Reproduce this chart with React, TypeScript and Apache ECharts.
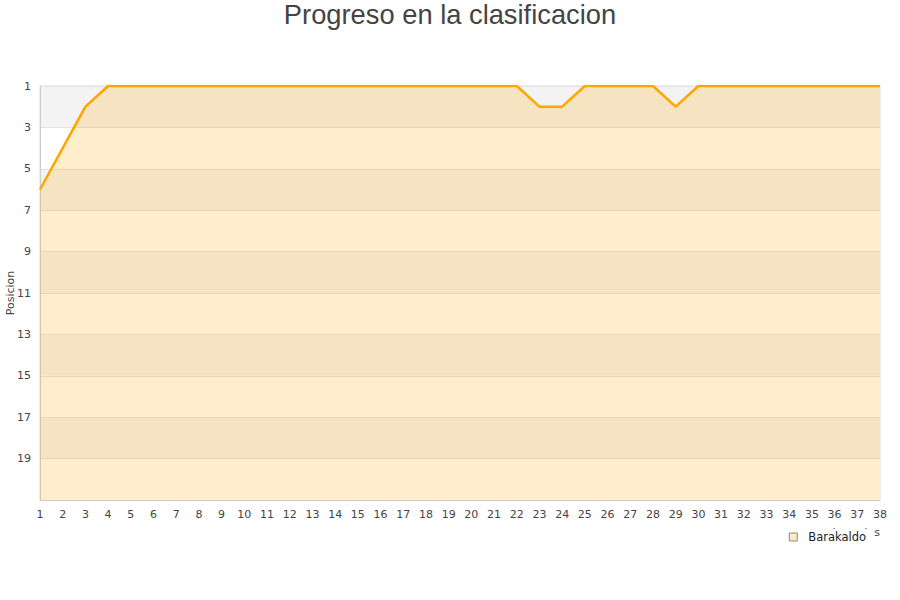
import React, { useEffect, useRef } from "react";
import * as echarts from "echarts";

const jornadas = Array.from({ length: 38 }, (_, i) => String(i + 1));
const posiciones = [
  6, 4, 2, 1, 1, 1, 1, 1, 1, 1,
  1, 1, 1, 1, 1, 1, 1, 1, 1, 1,
  1, 1, 2, 2, 1, 1, 1, 1, 2, 1,
  1, 1, 1, 1, 1, 1, 1, 1,
];
const teamName = "Barakaldo";
const chartTitle = "Progreso en la clasificacion";

export default function App() {
  const ref = useRef<HTMLDivElement>(null);
  useEffect(() => {
    if (!ref.current) return;
    const chart = echarts.init(ref.current, null, { renderer: "svg" });
    chart.setOption({
      animation: false,
      title: {
        text: chartTitle,
        left: "center",
        top: -4,
        textStyle: {
          fontFamily: "Liberation Sans, Arial, sans-serif",
          fontSize: 27.3,
          fontWeight: "normal",
          color: "#444",
        },
      },
      grid: {
        left: 40,
        right: 20,
        top: 86,
        bottom: 100,
        containLabel: false,
        outerBoundsMode: "none",
        show: true,
        borderColor: "#ddd",
        borderWidth: 1,
        backgroundColor: "transparent",
      },
      legend: {
        data: [
          {
            name: teamName,
            icon: "rect",
            itemStyle: { color: "#ffe9c4", borderColor: "#888", borderWidth: 1 },
          },
        ],
        right: 26,
        top: 529,
        itemWidth: 8,
        itemHeight: 8,
        itemGap: 10,
        padding: [2, 8, 4, 6],
        backgroundColor: "#fff",
        textStyle: {
          fontFamily: "DejaVu Sans, sans-serif",
          fontSize: 11.5,
          color: "#222",
          padding: [0, 0, 0, 6],
        },
      },
      xAxis: {
        type: "category",
        data: jornadas,
        boundaryGap: false,
        name: "Jornadas",
        nameLocation: "end",
        nameGap: 0,
        nameTextStyle: {
          align: "right",
          verticalAlign: "top",
          padding: [27, 0, 0, 0],
          fontFamily: "DejaVu Sans, sans-serif",
          fontSize: 11,
          color: "#444",
        },
        axisLine: { lineStyle: { color: "#ccc" } },
        axisTick: { show: false },
        axisLabel: {
          interval: 0,
          margin: 9,
          fontFamily: "DejaVu Sans, sans-serif",
          fontSize: 11,
          color: "#444",
        },
        splitLine: { show: false },
      },
      yAxis: {
        type: "value",
        inverse: true,
        min: 1,
        max: 21,
        interval: 2,
        name: "Posicion",
        nameLocation: "middle",
        nameGap: 24,
        nameMoveOverlap: false,
        nameRotate: 90,
        nameTextStyle: { fontFamily: "DejaVu Sans, sans-serif", fontSize: 11, color: "#444" },
        axisLine: { show: true, lineStyle: { color: "#ccc" } },
        axisTick: { show: false },
        axisLabel: {
          showMaxLabel: false,
          margin: 9,
          fontFamily: "DejaVu Sans, sans-serif",
          fontSize: 11,
          color: "#444",
        },
        splitLine: { show: true, lineStyle: { color: "#e3e3e3" } },
        splitArea: { show: true, areaStyle: { color: ["#f3f3f3", "#ffffff"] } },
      },
      series: [
        {
          name: teamName,
          type: "line",
          data: posiciones,
          showSymbol: false,
          symbol: "none",
          lineStyle: { color: "#ffa500", width: 2.5 },
          itemStyle: { color: "#ffa500" },
          areaStyle: { color: "#ffa500", opacity: 0.2, origin: "end" },
        },
      ],
    });
    return () => chart.dispose();
  }, []);
  return <div ref={ref} style={{ width: 900, height: 600, position: "absolute", left: 0, top: 0 }} />;
}
